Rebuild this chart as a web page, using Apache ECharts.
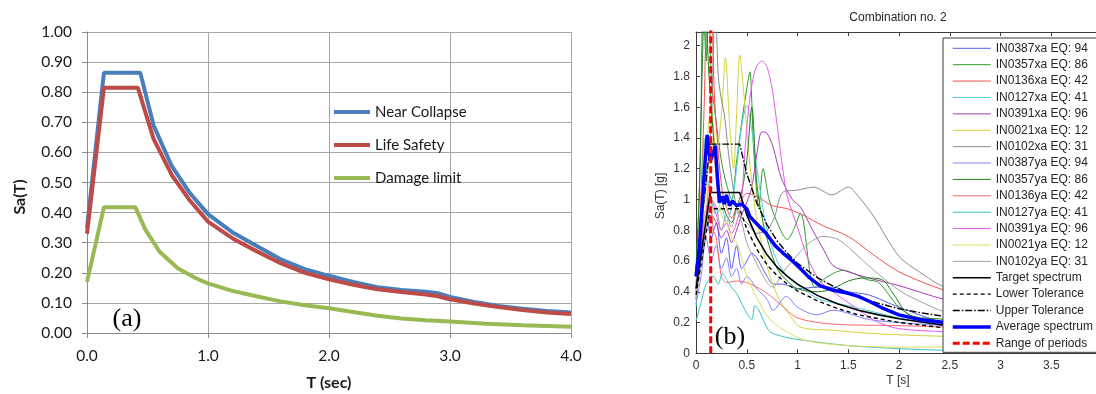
<!DOCTYPE html>
<html>
<head>
<meta charset="utf-8">
<script src="https://cdn.jsdelivr.net/npm/echarts@6/dist/echarts.min.js"></script>
<style>
  html, body { margin: 0; padding: 0; background: #fff; }
  #chart { width: 1096px; height: 394px; }
</style>
</head>
<body>
<div id="chart"></div>
<script>
// ---- panel (a): design spectra, [T (sec), Sa(T)] ----
const nearCollapse = [[0, 0.35], [0.14, 0.865], [0.44, 0.865], [0.55, 0.69], [0.7, 0.555], [0.85, 0.465], [1.0, 0.395], [1.2, 0.335], [1.4, 0.29], [1.6, 0.245], [1.8, 0.212], [2.0, 0.19], [2.2, 0.17], [2.4, 0.152], [2.6, 0.143], [2.8, 0.137], [2.9, 0.132], [3.0, 0.12], [3.2, 0.103], [3.4, 0.09], [3.6, 0.081], [3.8, 0.073], [4.0, 0.068]]
const lifeSafety = [[0, 0.33], [0.14, 0.815], [0.42, 0.815], [0.55, 0.645], [0.7, 0.525], [0.85, 0.44], [1.0, 0.37], [1.2, 0.315], [1.4, 0.272], [1.6, 0.232], [1.8, 0.2], [2.0, 0.178], [2.2, 0.16], [2.4, 0.145], [2.6, 0.136], [2.8, 0.128], [2.9, 0.122], [3.0, 0.112], [3.2, 0.098], [3.4, 0.086], [3.6, 0.076], [3.8, 0.068], [4.0, 0.063]]
const damageLimit = [[0, 0.17], [0.14, 0.418], [0.4, 0.418], [0.48, 0.345], [0.6, 0.27], [0.75, 0.215], [0.9, 0.182], [1.0, 0.165], [1.2, 0.14], [1.4, 0.122], [1.6, 0.105], [1.8, 0.092], [2.0, 0.082], [2.2, 0.07], [2.4, 0.057], [2.6, 0.048], [2.8, 0.042], [3.0, 0.038], [3.3, 0.031], [3.6, 0.026], [4.0, 0.021]]

// ---- panel (b): record spectra, [T (s), Sa(T) (g)] ----
const in0387xa = [[0, 0.35], [0.05, 0.7], [0.1, 0.9], [0.15, 0.75], [0.2, 0.85], [0.25, 0.65], [0.3, 0.75], [0.35, 0.55], [0.4, 0.7], [0.45, 0.55], [0.5, 0.6], [0.55, 0.65], [0.6, 0.62], [0.7, 0.5], [0.76, 0.45], [0.85, 0.45], [1.0, 0.42], [1.2, 0.43], [1.35, 0.43], [1.5, 0.4], [1.7, 0.38], [2.0, 0.3], [2.45, 0.2], [3.0, 0.17], [4.0, 0.13]]
const in0357xa = [[0, 0.5], [0.04, 1.2], [0.07, 2.3], [0.1, 1.9], [0.12, 2.6], [0.15, 1.8], [0.2, 1.5], [0.25, 1.25], [0.3, 1.1], [0.35, 1.0], [0.4, 1.25], [0.45, 1.5], [0.5, 1.72], [0.53, 1.83], [0.57, 1.3], [0.62, 0.95], [0.66, 1.2], [0.72, 1.0], [0.8, 0.85], [0.9, 0.74], [0.96, 0.8], [1.03, 0.91], [1.17, 0.43], [1.3, 0.5], [1.45, 0.54], [1.55, 0.52], [1.68, 0.48], [1.8, 0.46], [2.0, 0.3], [2.2, 0.22], [2.45, 0.2], [3.0, 0.16], [4.0, 0.11]]
const in0136xa = [[0, 0.45], [0.04, 0.9], [0.08, 1.6], [0.11, 2.4], [0.14, 2.5], [0.18, 1.7], [0.22, 1.3], [0.26, 1.05], [0.3, 0.95], [0.35, 0.88], [0.4, 0.95], [0.45, 1.0], [0.5, 1.04], [0.6, 1.02], [0.75, 0.96], [0.9, 0.94], [1.05, 0.9], [1.25, 0.83], [1.5, 0.76], [1.75, 0.64], [2.0, 0.53], [2.45, 0.41], [3.0, 0.32], [4.0, 0.22]]
const in0127xa = [[0, 0.3], [0.05, 0.8], [0.08, 1.4], [0.1, 1.2], [0.15, 1.0], [0.2, 0.9], [0.25, 0.95], [0.3, 0.85], [0.35, 0.95], [0.4, 1.2], [0.45, 1.48], [0.5, 1.61], [0.55, 1.45], [0.6, 1.2], [0.7, 0.8], [0.8, 0.6], [0.9, 0.5], [1.03, 0.43], [1.22, 0.35], [1.5, 0.31], [2.0, 0.23], [2.45, 0.18], [3.0, 0.15], [4.0, 0.11]]
const in0391xa = [[0, 0.45], [0.05, 0.6], [0.1, 0.8], [0.15, 0.9], [0.2, 0.85], [0.25, 0.75], [0.3, 0.8], [0.35, 0.72], [0.4, 0.8], [0.45, 0.9], [0.5, 0.98], [0.55, 1.08], [0.6, 1.3], [0.65, 1.44], [0.7, 1.43], [0.76, 1.34], [0.84, 1.14], [0.95, 1.0], [1.03, 0.95], [1.15, 0.8], [1.26, 0.67], [1.35, 0.57], [1.5, 0.53], [1.7, 0.49], [2.0, 0.44], [2.45, 0.35], [3.0, 0.28], [4.0, 0.2]]
const in0021xa = [[0, 0.45], [0.05, 0.9], [0.1, 1.3], [0.15, 1.6], [0.2, 1.3], [0.25, 1.55], [0.29, 1.92], [0.33, 1.5], [0.37, 1.2], [0.4, 1.55], [0.43, 1.94], [0.47, 1.7], [0.52, 1.3], [0.58, 0.95], [0.65, 0.7], [0.73, 0.5], [0.82, 0.35], [0.92, 0.25], [1.03, 0.17], [1.35, 0.15], [1.7, 0.13], [2.0, 0.12], [2.45, 0.11], [3.0, 0.1], [4.0, 0.08]]
const in0102xa = [[0, 0.4], [0.05, 0.8], [0.1, 1.1], [0.15, 1.5], [0.19, 2.3], [0.22, 1.8], [0.25, 1.65], [0.28, 1.55], [0.32, 1.3], [0.36, 1.1], [0.4, 0.95], [0.45, 0.88], [0.5, 0.85], [0.6, 0.78], [0.7, 0.8], [0.77, 0.88], [0.86, 1.05], [0.99, 1.06], [1.16, 1.08], [1.34, 1.03], [1.5, 1.08], [1.6, 1.02], [1.75, 0.89], [2.0, 0.63], [2.2, 0.53], [2.45, 0.43], [3.0, 0.33], [4.0, 0.22]]
const in0387ya = [[0, 0.32], [0.05, 0.5], [0.1, 0.75], [0.15, 0.6], [0.2, 0.7], [0.25, 0.55], [0.3, 0.62], [0.35, 0.5], [0.4, 0.55], [0.45, 0.45], [0.5, 0.5], [0.6, 0.42], [0.7, 0.35], [0.76, 0.28], [0.89, 0.37], [1.0, 0.3], [1.19, 0.25], [1.35, 0.28], [1.7, 0.22], [2.0, 0.2], [2.45, 0.18], [3.0, 0.15], [4.0, 0.11]]
const in0357ya = [[0, 0.55], [0.03, 1.0], [0.06, 1.8], [0.09, 2.5], [0.12, 1.9], [0.15, 1.6], [0.2, 1.2], [0.25, 1.0], [0.3, 0.9], [0.35, 0.85], [0.4, 0.95], [0.45, 1.05], [0.5, 1.25], [0.55, 1.6], [0.6, 1.1], [0.66, 0.85], [0.72, 0.7], [0.8, 0.55], [0.9, 0.47], [1.0, 0.42], [1.2, 0.4], [1.35, 0.42], [1.5, 0.47], [1.66, 0.49], [1.83, 0.48], [1.95, 0.38], [2.1, 0.25], [2.45, 0.22], [3.0, 0.17], [4.0, 0.11]]
const in0136ya = [[0, 0.4], [0.05, 0.7], [0.1, 0.9], [0.13, 1.1], [0.17, 0.8], [0.2, 0.75], [0.25, 0.5], [0.3, 0.46], [0.4, 0.47], [0.5, 0.46], [0.6, 0.43], [0.7, 0.39], [0.83, 0.32], [1.0, 0.23], [1.35, 0.19], [2.0, 0.18], [2.45, 0.17], [3.0, 0.15], [4.0, 0.12]]
const in0127ya = [[0, 0.21], [0.05, 0.33], [0.1, 0.45], [0.17, 0.5], [0.22, 0.45], [0.26, 0.52], [0.3, 0.48], [0.35, 0.43], [0.4, 0.39], [0.5, 0.26], [0.55, 0.22], [0.58, 0.31], [0.62, 0.28], [0.66, 0.22], [0.73, 0.14], [0.85, 0.11], [1.0, 0.09], [1.5, 0.05], [2.0, 0.03], [2.45, 0.02], [3.0, 0.015], [4.0, 0.01]]
const in0391ya = [[0, 0.5], [0.05, 0.75], [0.1, 0.95], [0.15, 1.0], [0.2, 0.9], [0.25, 0.8], [0.3, 0.85], [0.35, 0.78], [0.4, 0.85], [0.45, 1.0], [0.48, 1.3], [0.52, 1.6], [0.56, 1.78], [0.6, 1.87], [0.65, 1.9], [0.7, 1.86], [0.75, 1.72], [0.8, 1.48], [0.85, 1.22], [0.9, 1.02], [1.0, 0.82], [1.1, 0.62], [1.22, 0.47], [1.35, 0.4], [1.5, 0.33], [1.65, 0.26], [1.8, 0.2], [2.0, 0.16], [2.45, 0.14], [3.0, 0.12], [4.0, 0.09]]
const in0021ya = [[0, 0.4], [0.05, 0.6], [0.1, 1.0], [0.15, 1.4], [0.2, 1.15], [0.25, 0.9], [0.3, 0.85], [0.35, 0.75], [0.4, 0.72], [0.45, 0.62], [0.5, 0.5], [0.6, 0.36], [0.73, 0.22], [0.92, 0.13], [1.1, 0.08], [1.5, 0.05], [2.0, 0.04], [2.45, 0.04], [3.0, 0.03], [4.0, 0.02]]
const in0102ya = [[0, 0.35], [0.05, 0.6], [0.1, 0.8], [0.15, 1.0], [0.2, 0.95], [0.25, 0.8], [0.3, 0.9], [0.35, 0.82], [0.4, 0.92], [0.45, 0.85], [0.5, 0.72], [0.6, 0.58], [0.7, 0.46], [0.76, 0.43], [0.85, 0.52], [1.0, 0.64], [1.12, 0.72], [1.25, 0.76], [1.4, 0.74], [1.55, 0.66], [1.7, 0.57], [2.0, 0.41], [2.2, 0.34], [2.45, 0.27], [3.0, 0.2], [4.0, 0.13]]

const targetSpectrum = [[0, 0.42], [0.14, 1.045], [0.43, 1.045], [0.5, 0.9], [0.6, 0.75], [0.7, 0.64], [0.8, 0.56], [0.9, 0.5], [1.0, 0.45], [1.2, 0.375], [1.4, 0.32], [1.6, 0.28], [1.8, 0.25], [2.0, 0.225], [2.2, 0.205], [2.45, 0.183], [3.0, 0.15], [3.5, 0.128], [4.0, 0.112]]
const lowerTolerance = [[0, 0.38], [0.14, 0.94], [0.43, 0.94], [0.5, 0.81], [0.6, 0.675], [0.7, 0.575], [0.8, 0.505], [0.9, 0.45], [1.0, 0.405], [1.2, 0.34], [1.4, 0.29], [1.6, 0.25], [1.8, 0.225], [2.0, 0.2], [2.2, 0.185], [2.45, 0.165], [3.0, 0.135], [3.5, 0.115], [4.0, 0.1]]
const upperTolerance = [[0, 0.55], [0.14, 1.36], [0.43, 1.36], [0.5, 1.17], [0.6, 0.975], [0.7, 0.835], [0.8, 0.73], [0.9, 0.65], [1.0, 0.585], [1.2, 0.49], [1.4, 0.42], [1.6, 0.365], [1.8, 0.325], [2.0, 0.29], [2.2, 0.265], [2.45, 0.24], [3.0, 0.195], [3.5, 0.165], [4.0, 0.145]]
const averageSpectrum = [[0, 0.5], [0.03, 0.65], [0.06, 0.95], [0.09, 1.25], [0.11, 1.42], [0.14, 1.25], [0.17, 1.3], [0.19, 1.35], [0.21, 1.15], [0.23, 0.98], [0.26, 1.02], [0.28, 0.97], [0.3, 1.03], [0.33, 0.96], [0.36, 0.99], [0.4, 0.96], [0.45, 0.97], [0.5, 0.94], [0.53, 0.89], [0.6, 0.84], [0.69, 0.78], [0.78, 0.7], [0.86, 0.65], [0.95, 0.6], [1.03, 0.55], [1.12, 0.49], [1.22, 0.44], [1.35, 0.41], [1.5, 0.39], [1.6, 0.37], [1.7, 0.34], [1.85, 0.29], [2.0, 0.25], [2.2, 0.22], [2.45, 0.2], [3.0, 0.16], [3.5, 0.13], [4.0, 0.11]]
const rangeOfPeriods = [[0.145, 0], [0.145, 2.2]]

const recordNames = ['IN0387xa EQ: 94', 'IN0357xa EQ: 86', 'IN0136xa EQ: 42', 'IN0127xa EQ: 41', 'IN0391xa EQ: 96', 'IN0021xa EQ: 12', 'IN0102xa EQ: 31',
  'IN0387ya EQ: 94', 'IN0357ya EQ: 86', 'IN0136ya EQ: 42', 'IN0127ya EQ: 41', 'IN0391ya EQ: 96', 'IN0021ya EQ: 12', 'IN0102ya EQ: 31']
const recordData = [in0387xa, in0357xa, in0136xa, in0127xa, in0391xa, in0021xa, in0102xa,
  in0387ya, in0357ya, in0136ya, in0127ya, in0391ya, in0021ya, in0102ya]
const recordColors = ['#5a5af5', '#2f9a2f', '#f55050', '#50d0dc', '#a83cb8', '#d2d23c', '#8c8c8c',
  '#8282ff', '#1f801f', '#ff6a6a', '#3cc0c0', '#e65ae6', '#dede5a', '#a0a0a0']

const fontA = 'Lato, "Open Sans", sans-serif'
const fontB = '"Liberation Sans", Arial, sans-serif'

const chart = echarts.init(document.getElementById('chart'))

const lineA = (name, data, color) => ({
  name, type: 'line', xAxisIndex: 0, yAxisIndex: 0, data, symbol: 'none',
  lineStyle: { color, width: 4 }, itemStyle: { color }
})
const lineB = (name, data, color, width, type, z, smooth) => ({
  name, type: 'line', xAxisIndex: 1, yAxisIndex: 1, data, symbol: 'none', smooth: smooth || false,
  lineStyle: { color, width, type }, itemStyle: { color }, z
})

const recordSeries = recordNames.map((name, i) => lineB(name, recordData[i], recordColors[i], 1, 'solid', 2, 0.3))
const dashLower = [4, 3]
const dashUpper = [7, 2, 1.5, 2]
const dashRange = [7, 3]

const seriesB = recordSeries.concat([
  lineB('Target spectrum', targetSpectrum, '#000', 1.6, 'solid', 3),
  lineB('Lower Tolerance', lowerTolerance, '#000', 1.4, dashLower, 3),
  lineB('Upper Tolerance', upperTolerance, '#000', 1.4, dashUpper, 3),
  lineB('Average spectrum', averageSpectrum, '#0000ff', 3.5, 'solid', 4),
  lineB('Range of periods', rangeOfPeriods, '#ff0000', 3, dashRange, 5)
])

const legendB = seriesB.map(s => ({
  name: s.name,
  lineStyle: { width: s.lineStyle.width, type: s.lineStyle.type, color: s.lineStyle.color },
  itemStyle: { opacity: 0 }
}))

chart.setOption({
  animation: false,
  backgroundColor: '#ffffff',
  grid: [
    { left: 87, top: 32, width: 484, height: 301, outerBoundsMode: 'none' },
    { left: 696, top: 32, width: 406, height: 321.3, outerBoundsMode: 'none' }
  ],
  xAxis: [
    {
      gridIndex: 0, type: 'value', min: 0, max: 4, interval: 1,
      axisLine: { lineStyle: { color: '#8c8c8c' } },
      axisTick: { show: true, length: 5, lineStyle: { color: '#8c8c8c' } },
      axisLabel: { margin: 15, fontSize: 15.5, fontFamily: fontA, color: '#1a1a1a', formatter: v => v.toFixed(1) },
      splitLine: { show: true, lineStyle: { color: '#a6a6a6' } }
    },
    {
      gridIndex: 1, type: 'value', min: 0, max: 4, interval: 0.5,
      axisLine: { lineStyle: { color: '#3a3a3a' } },
      axisTick: { show: true, inside: true, length: 4, lineStyle: { color: '#3a3a3a' } },
      axisLabel: { margin: 6, fontSize: 12, fontFamily: fontB, color: '#333' },
      splitLine: { show: false }
    },
    {
      gridIndex: 1, type: 'value', position: 'top', min: 0, max: 4, interval: 0.5,
      axisLine: { lineStyle: { color: '#3a3a3a' } },
      axisTick: { show: true, inside: true, length: 4, lineStyle: { color: '#3a3a3a' } },
      axisLabel: { show: false },
      splitLine: { show: false }
    }
  ],
  yAxis: [
    {
      gridIndex: 0, type: 'value', min: 0, max: 1, interval: 0.1,
      axisLine: { show: true, lineStyle: { color: '#8c8c8c' } },
      axisTick: { show: true, length: 5, lineStyle: { color: '#8c8c8c' } },
      axisLabel: { margin: 15, fontSize: 15.5, fontFamily: fontA, color: '#1a1a1a', formatter: v => v.toFixed(2) },
      splitLine: { show: true, lineStyle: { color: '#a6a6a6' } }
    },
    {
      gridIndex: 1, type: 'value', min: 0, max: 2.089, interval: 0.2,
      axisLine: { show: true, lineStyle: { color: '#3a3a3a' } },
      axisTick: { show: true, inside: true, length: 4, lineStyle: { color: '#3a3a3a' } },
      axisLabel: { margin: 6, fontSize: 12, fontFamily: fontB, color: '#333', showMaxLabel: false },
      splitLine: { show: false }
    }
  ],
  legend: [
    {
      orient: 'vertical', left: 327, top: 99, selectedMode: false,
      itemWidth: 36, itemHeight: 16, itemGap: 17,
      textStyle: { fontSize: 15, fontFamily: fontA, color: '#1a1a1a', lineHeight: 16 },
      data: [
        { name: 'Near Collapse', lineStyle: { width: 4 }, itemStyle: { opacity: 0 } },
        { name: 'Life Safety', lineStyle: { width: 4 }, itemStyle: { opacity: 0 } },
        { name: 'Damage limit', lineStyle: { width: 4 }, itemStyle: { opacity: 0 } }
      ]
    },
    {
      orient: 'vertical', left: 943, top: 38, selectedMode: false, z: 10,
      backgroundColor: '#ffffff', borderColor: '#3a3a3a', borderWidth: 1,
      padding: [4.3, 30, 3, 8],
      itemWidth: 38, itemHeight: 12, itemGap: 4.39,
      textStyle: { fontSize: 12, fontFamily: fontB, color: '#262626', lineHeight: 12 },
      data: legendB
    }
  ],
  graphic: [
    { type: 'text', x: 20, y: 197, rotation: Math.PI / 2, style: { text: 'Sa(T)', font: 'bold 16px ' + fontA, fill: '#1a1a1a', align: 'center', verticalAlign: 'middle' } },
    { type: 'text', x: 329, y: 383, style: { text: 'T (sec)', font: 'bold 16px ' + fontA, fill: '#1a1a1a', align: 'center', verticalAlign: 'middle' } },
    { type: 'text', x: 127, y: 319, style: { text: '(a)', font: '26px "Liberation Serif", serif', fill: '#000', align: 'center', verticalAlign: 'middle' } },
    { type: 'text', x: 898, y: 18, style: { text: 'Combination no. 2', font: '12px ' + fontB, fill: '#262626', align: 'center', verticalAlign: 'middle' } },
    { type: 'text', x: 661, y: 196, rotation: Math.PI / 2, style: { text: 'Sa(T) [g]', font: '12px ' + fontB, fill: '#333', align: 'center', verticalAlign: 'middle' } },
    { type: 'text', x: 898, y: 381, style: { text: 'T [s]', font: '12px ' + fontB, fill: '#333', align: 'center', verticalAlign: 'middle' } },
    { type: 'text', x: 730, y: 337, z: 20, style: { text: '(b)', font: '26px "Liberation Serif", serif', fill: '#000', align: 'center', verticalAlign: 'middle' } }
  ],
  series: [
    lineA('Near Collapse', nearCollapse, '#4a7ebb'),
    lineA('Life Safety', lifeSafety, '#be4b48'),
    lineA('Damage limit', damageLimit, '#98b954')
  ].concat(seriesB)
})
</script>
</body>
</html>
